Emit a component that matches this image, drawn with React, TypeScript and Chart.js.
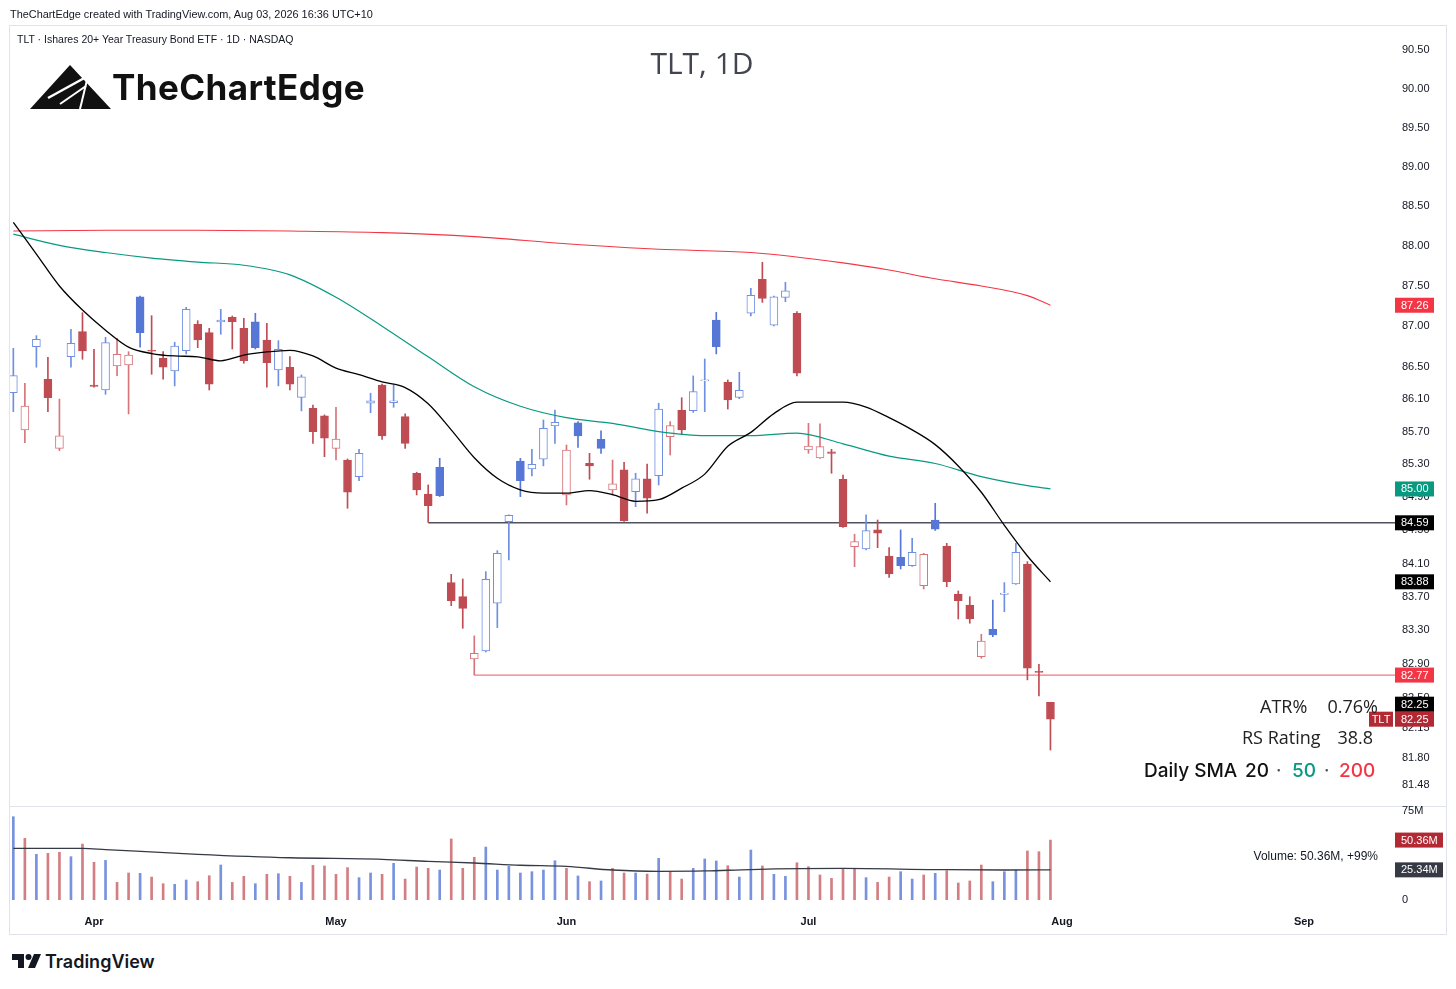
import React, { useEffect, useRef } from 'react';
import { Chart, registerables } from 'chart.js';

Chart.register(...registerables);

// ---------------- data ----------------
const opens = [86.177, 85.719, 86.745, 86.342, 85.495, 86.621, 86.931, 86.272, 86.210, 86.507,
  86.519, 87.366, 86.700, 86.601, 86.445, 86.695, 87.023, 86.919, 87.051, 87.110,
  86.973, 87.055, 86.828, 86.457, 86.491, 86.120, 85.985, 85.891, 85.495, 85.352,
  85.150, 86.047, 86.272, 86.054, 85.883, 85.191, 84.939, 85.264, 83.870, 83.702,
  82.961, 83.055, 83.623, 84.604, 85.340, 85.243, 85.361, 85.768, 84.927, 85.808,
  85.312, 85.605, 84.988, 85.231, 84.967, 85.122, 85.162, 85.638, 85.964, 85.955,
  86.322, 87.076, 86.305, 86.120, 87.160, 87.584, 87.011, 87.359, 87.160, 85.474,
  85.377, 85.453, 85.118, 84.302, 84.274, 84.504, 84.190, 84.174, 84.074, 83.834,
  84.624, 84.310, 83.734, 83.602, 82.988, 83.313, 83.730, 83.854, 84.094, 82.815,
  82.449];
const highs = [86.725, 86.293, 86.882, 86.614, 86.099, 86.961, 87.167, 86.713, 86.862, 86.849,
  86.683, 87.375, 87.130, 86.683, 86.800, 87.234, 87.068, 86.973, 87.209, 87.126,
  87.098, 87.160, 87.036, 86.820, 86.621, 86.396, 86.026, 85.904, 85.997, 85.365,
  85.483, 86.170, 86.284, 86.272, 85.916, 85.203, 85.049, 85.373, 83.970, 83.914,
  83.234, 84.002, 84.254, 84.685, 85.373, 85.483, 85.842, 85.964, 85.535, 85.821,
  85.434, 85.710, 85.352, 85.324, 85.191, 85.304, 86.047, 85.821, 86.115, 86.384,
  86.593, 87.172, 86.334, 86.429, 87.471, 87.797, 87.375, 87.547, 87.180, 85.801,
  85.793, 85.483, 85.170, 84.452, 84.685, 84.624, 84.290, 84.504, 84.403, 84.222,
  84.826, 84.342, 83.770, 83.702, 83.254, 83.662, 83.870, 84.342, 84.122, 82.898,
  82.449];
const lows = [85.944, 85.564, 86.491, 85.944, 85.466, 86.491, 86.589, 86.244, 86.157, 86.387,
  85.916, 86.738, 86.404, 86.342, 86.260, 86.655, 86.733, 86.210, 86.899, 86.716,
  86.540, 86.716, 86.244, 86.260, 86.210, 85.953, 85.556, 85.393, 85.352, 84.766,
  85.101, 85.931, 85.605, 85.997, 85.495, 84.927, 84.596, 84.908, 83.594, 83.325,
  82.770, 83.043, 83.332, 84.142, 84.907, 85.158, 85.280, 85.556, 84.806, 85.507,
  85.118, 85.434, 84.927, 84.606, 84.785, 84.706, 85.049, 85.413, 85.670, 85.935,
  85.944, 86.655, 85.976, 86.103, 87.126, 87.296, 87.002, 87.304, 86.384, 85.434,
  85.371, 85.191, 84.533, 84.062, 84.262, 84.290, 83.934, 84.034, 84.064, 83.794,
  84.498, 83.822, 83.436, 83.385, 82.969, 83.226, 83.523, 83.848, 82.713, 82.523,
  81.889];
const closes = [86.387, 86.013, 86.837, 86.115, 85.646, 86.787, 86.692, 86.254, 86.795, 86.651,
  86.642, 86.919, 86.688, 86.491, 86.754, 87.209, 86.828, 86.281, 87.076, 87.055,
  86.572, 86.733, 86.547, 86.713, 86.281, 86.371, 85.698, 85.618, 85.609, 84.960,
  85.434, 86.078, 85.646, 86.078, 85.556, 84.988, 84.797, 84.918, 83.654, 83.563,
  83.028, 83.910, 84.222, 84.681, 85.101, 85.300, 85.740, 85.813, 85.474, 85.646,
  85.279, 85.495, 85.061, 84.616, 85.122, 84.887, 85.976, 85.772, 85.719, 86.189,
  86.334, 86.745, 86.087, 86.206, 87.384, 87.346, 87.366, 87.441, 86.417, 85.523,
  85.515, 85.434, 84.543, 84.362, 84.495, 84.464, 83.974, 84.074, 84.234, 84.210,
  84.512, 83.882, 83.654, 83.436, 83.174, 83.246, 83.746, 84.234, 82.851, 82.801,
  82.250];
const volumes = [70, 51.8, 38.4, 39.2, 40.1, 36.4, 47, 31.7, 33.3, 14.8,
  22.7, 22.4, 19.3, 13.7, 13.2, 16.8, 15.4, 20.4, 29.4, 14.8,
  19.9, 13.7, 21.6, 22.1, 19.9, 14.8, 29.1, 28.6, 21.6, 27.2,
  18.8, 22.7, 21.6, 30.8, 17.6, 27.7, 26.6, 25.2, 51.3, 26.6,
  35.9, 44.5, 25.2, 28.3, 22.7, 23.8, 25.2, 33, 26.6, 20.2,
  15.4, 16, 26.6, 22.7, 22.7, 21.8, 35, 23.8, 17.6, 26.6,
  34.5, 32.8, 28.8, 19.3, 42, 28.6, 21.6, 19.9, 31.3, 28,
  21, 18.2, 25.8, 25.8, 18.8, 14.8, 19.3, 23.8, 17.6, 21,
  22.4, 24.6, 14.3, 16, 29.4, 15.4, 23.8, 25.2, 41.2, 40.6,
  50.36];

const sma20Idx = [0, 2, 4, 6, 8, 10, 12, 14, 16, 18, 20, 22, 24, 26, 28, 30, 32, 34, 36, 38, 40, 42, 44,
  46, 48, 50, 52, 54, 56, 58, 60, 62, 64, 66, 68, 70, 72, 74, 76, 78, 80, 82, 84, 86, 88, 90];
const sma20Vals = [88.30, 87.90, 87.50, 87.20, 86.95, 86.74, 86.66, 86.63, 86.62, 86.57, 86.64, 86.68,
  86.70, 86.63, 86.48, 86.40, 86.31, 86.24, 86.04, 85.72, 85.38, 85.13, 84.99, 84.95, 84.95, 84.98,
  84.93, 84.85, 84.87, 85.01, 85.18, 85.52, 85.69, 85.92, 86.06, 86.06, 86.06, 86.00, 85.87, 85.72,
  85.54, 85.28, 84.96, 84.56, 84.19, 83.88];
const sma50Idx = [0, 4, 8, 12, 16, 20, 24, 28, 32, 36, 40, 44, 48, 52, 56, 60, 64, 68, 72, 76, 80, 84, 88, 90];
const sma50Vals = [88.15, 88.01, 87.92, 87.85, 87.80, 87.76, 87.64, 87.36, 87.00, 86.62, 86.25, 86.01,
  85.87, 85.80, 85.70, 85.65, 85.65, 85.68, 85.55, 85.40, 85.31, 85.15, 85.04, 85.00];
const sma200Idx = [0, 8, 16, 24, 32, 40, 48, 56, 64, 72, 76, 80, 84, 88, 90];
const sma200Vals = [88.19, 88.20, 88.20, 88.19, 88.17, 88.12, 88.03, 87.96, 87.92, 87.79, 87.70, 87.59,
  87.50, 87.38, 87.26];
const volMaIdx = [0, 6, 8, 16, 24, 32, 36, 40, 44, 48, 52, 56, 60, 64, 72, 80, 86, 90];
const volMaVals = [43.4, 43.4, 42.4, 38.4, 35.5, 34.2, 32.4, 31.1, 29.2, 28.2, 25.2, 24.1, 24.4, 25.6,
  26.5, 25.6, 25.2, 25.34];

const monthIdx = [7, 28, 48, 69, 91, 112];
const monthLabels = ['Apr', 'May', 'Jun', 'Jul', 'Aug', 'Sep'];
const priceTicks = [90.5, 90, 89.5, 89, 88.5, 88, 87.5, 87, 86.5, 86.1, 85.7, 85.3, 84.9, 84.5, 84.1,
  83.7, 83.3, 82.9, 82.5, 82.15, 81.8, 81.48];
const volTicks = [0, 75];

const levelValues = [84.59, 82.77];
const levelStarts = [36, 40];

const priceBadgeValues = [87.26, 85.0, 84.59, 83.88, 82.77, 82.25, 82.25];
const priceBadgeTexts = ['87.26', '85.00', '84.59', '83.88', '82.77', '82.25', '82.25'];
const priceBadgeTags = ['', '', '', '', '', 'TLT', ''];
const volBadgeValues = [50.36, 25.34];
const volBadgeTexts = ['50.36M', '25.34M'];

// ---------------- styles ----------------
const X_MIN = -0.29;
const X_MAX = 119.9;
const PRICE_MIN = 81.248;
const PRICE_MAX = 90.824;
const VOL_MAX = 79;

const BLUE = '#5677d6';
const BLUE_H = '#6f8fe0';
const RED = '#c04c53';
const RED_H = '#d6767b';
const AXIS_FONT = '"Liberation Sans", Arial, sans-serif';
const priceBadgeColors = ['#f23645', '#089981', '#000000', '#000000', '#f23645', '#b22833', '#000000'];
const volBadgeColors = ['#b22833', '#363a45'];

const up = closes.map((c, i) => (i === 0 ? true : c >= closes[i - 1]));
const hollow = closes.map((c, i) => c > opens[i]);
const strokeCol = (i: number) => (up[i] ? (hollow[i] ? BLUE_H : BLUE) : hollow[i] ? RED_H : RED);
const fillCol = (i: number) => (hollow[i] ? '#ffffff' : up[i] ? BLUE : RED);

const lineSeries = (idx: number[], vals: number[]) => idx.map((x, k) => ({ x, y: vals[k] }));

const noPad = (s: any) => {
  s.paddingTop = 0;
  s.paddingBottom = 0;
  s.paddingLeft = 0;
  s.paddingRight = 0;
};

const priceBadgePlugin = {
  id: 'priceBadges',
  afterDraw(chart: any) {
    const ctx = chart.ctx;
    const ys = chart.scales.y;
    const left = chart.chartArea.right;
    const placed: number[] = [];
    ctx.save();
    ctx.font = `11px ${AXIS_FONT}`;
    ctx.textBaseline = 'middle';
    priceBadgeValues.forEach((v, k) => {
      let py = ys.getPixelForValue(v);
      placed.forEach((p) => {
        if (Math.abs(p - py) < 15) py = p - 15;
      });
      placed.push(py);
      ctx.fillStyle = priceBadgeColors[k];
      ctx.fillRect(left, py - 7.5, 39, 15);
      ctx.fillStyle = '#ffffff';
      ctx.textAlign = 'left';
      ctx.fillText(priceBadgeTexts[k], left + 6, py + 0.5);
      if (priceBadgeTags[k]) {
        ctx.fillStyle = priceBadgeColors[k];
        ctx.fillRect(left - 26, py - 7.5, 24, 15);
        ctx.fillStyle = '#ffffff';
        ctx.textAlign = 'center';
        ctx.fillText(priceBadgeTags[k], left - 14, py + 0.5);
      }
    });
    ctx.restore();
  },
};

const volBadgePlugin = {
  id: 'volBadges',
  afterDraw(chart: any) {
    const ctx = chart.ctx;
    const ys = chart.scales.y;
    const left = chart.chartArea.right;
    ctx.save();
    ctx.font = `11px ${AXIS_FONT}`;
    ctx.textBaseline = 'middle';
    ctx.textAlign = 'left';
    volBadgeValues.forEach((v, k) => {
      const py = ys.getPixelForValue(v);
      ctx.fillStyle = volBadgeColors[k];
      ctx.fillRect(left, py - 7.5, 48, 15);
      ctx.fillStyle = '#ffffff';
      ctx.fillText(volBadgeTexts[k], left + 6, py + 0.5);
    });
    ctx.restore();
  },
};

type LabelProps = {
  text?: string;
  left?: number;
  right?: number;
  cy: number;
  size: number;
  family?: string;
  weight?: number | string;
  color?: string;
  spacing?: number;
};

function Label({ text, left, right, cy, size, family, weight, color, spacing }: LabelProps) {
  const lh = Math.round(size * 1.3);
  const style: React.CSSProperties = {
    position: 'absolute',
    top: cy - lh / 2,
    lineHeight: `${lh}px`,
    fontSize: size,
    fontFamily: family || AXIS_FONT,
    fontWeight: weight || 400,
    color: color || '#131722',
    whiteSpace: 'nowrap',
    letterSpacing: spacing ? `${spacing}px` : undefined,
  };
  if (left !== undefined) style.left = left;
  if (right !== undefined) style.right = right;
  return <div style={style}>{text}</div>;
}

export default function App() {
  const priceRef = useRef<HTMLCanvasElement>(null);
  const volRef = useRef<HTMLCanvasElement>(null);

  useEffect(() => {
    const idx = closes.map((_, i) => i);
    const priceChart = new Chart(priceRef.current as HTMLCanvasElement, {
      type: 'bar',
      data: {
        datasets: [
          {
            type: 'line',
            data: lineSeries(sma20Idx, sma20Vals),
            borderColor: '#000000',
            borderWidth: 1.3,
            pointRadius: 0,
            cubicInterpolationMode: 'monotone',
            order: 1,
          } as any,
          {
            type: 'line',
            data: lineSeries(sma50Idx, sma50Vals),
            borderColor: '#089981',
            borderWidth: 1.2,
            pointRadius: 0,
            cubicInterpolationMode: 'monotone',
            order: 1,
          } as any,
          {
            type: 'line',
            data: lineSeries(sma200Idx, sma200Vals),
            borderColor: '#f23645',
            borderWidth: 1.1,
            pointRadius: 0,
            cubicInterpolationMode: 'monotone',
            order: 1,
          } as any,
          {
            type: 'bar',
            data: idx.map((i) => ({ x: i, y: [opens[i], closes[i]] })),
            backgroundColor: idx.map(fillCol),
            borderColor: idx.map(strokeCol),
            borderWidth: 1,
            borderSkipped: false,
            barThickness: 8,
            grouped: false,
            order: 2,
          } as any,
          {
            type: 'bar',
            data: idx.map((i) => ({ x: i, y: [lows[i], highs[i]] })),
            backgroundColor: idx.map(strokeCol),
            borderWidth: 0,
            barThickness: 1,
            grouped: false,
            order: 3,
          } as any,
          {
            type: 'line',
            data: [{ x: levelStarts[0], y: levelValues[0] }, { x: X_MAX, y: levelValues[0] }],
            borderColor: '#50535e',
            borderWidth: 1.5,
            pointRadius: 0,
            order: 4,
          } as any,
          {
            type: 'line',
            data: [{ x: levelStarts[1], y: levelValues[1] }, { x: X_MAX, y: levelValues[1] }],
            borderColor: '#f5777c',
            borderWidth: 1.2,
            pointRadius: 0,
            order: 4,
          } as any,
        ],
      },
      options: {
        responsive: false,
        animation: false,
        devicePixelRatio: 1,
        events: [],
        layout: { padding: { left: 10, top: 25, right: 0, bottom: 1 }, autoPadding: false } as any,
        plugins: { legend: { display: false }, tooltip: { enabled: false } },
        scales: {
          x: { type: 'linear', min: X_MIN, max: X_MAX, display: false, offset: false },
          y: {
            type: 'logarithmic',
            position: 'right',
            min: PRICE_MIN,
            max: PRICE_MAX,
            grid: { display: false, drawTicks: false },
            border: { display: false },
            afterBuildTicks: (s: any) => {
              s.ticks = priceTicks.map((v) => ({ value: v }));
            },
            afterFit: (s: any) => {
              s.width = 61;
              noPad(s);
            },
            ticks: {
              autoSkip: false,
              padding: 7,
              crossAlign: 'near',
              color: '#131722',
              font: { family: AXIS_FONT, size: 11 },
              callback: (v: any) => Number(v).toFixed(2),
            },
          } as any,
        },
      },
      plugins: [priceBadgePlugin],
    });

    const volChart = new Chart(volRef.current as HTMLCanvasElement, {
      type: 'bar',
      data: {
        datasets: [
          {
            type: 'line',
            data: lineSeries(volMaIdx, volMaVals),
            borderColor: '#363a45',
            borderWidth: 1.3,
            pointRadius: 0,
            cubicInterpolationMode: 'monotone',
            order: 1,
          } as any,
          {
            type: 'bar',
            data: idx.map((i) => ({ x: i, y: volumes[i] })),
            backgroundColor: idx.map((i) => (up[i] ? 'rgba(86,119,214,0.8)' : 'rgba(192,76,83,0.72)')),
            borderWidth: 0,
            barThickness: 2,
            grouped: false,
            order: 2,
          } as any,
        ],
      },
      options: {
        responsive: false,
        animation: false,
        devicePixelRatio: 1,
        events: [],
        layout: { padding: { left: 10, top: 1, right: 0, bottom: 0 }, autoPadding: false } as any,
        plugins: { legend: { display: false }, tooltip: { enabled: false } },
        scales: {
          x: {
            type: 'linear',
            min: X_MIN,
            max: X_MAX,
            offset: false,
            grid: { display: false, drawTicks: false },
            border: { display: false },
            afterBuildTicks: (s: any) => {
              s.ticks = monthIdx.map((v) => ({ value: v }));
            },
            afterFit: (s: any) => {
              s.height = 35;
              noPad(s);
            },
            ticks: {
              autoSkip: false,
              maxRotation: 0,
              padding: 15,
              color: '#131722',
              font: { family: AXIS_FONT, size: 11, weight: 'bold' },
              callback: (_v: any, i: number) => monthLabels[i],
            },
          } as any,
          y: {
            type: 'linear',
            position: 'right',
            min: 0,
            max: VOL_MAX,
            grid: { display: false, drawTicks: false },
            border: { display: false },
            afterBuildTicks: (s: any) => {
              s.ticks = volTicks.map((v) => ({ value: v }));
            },
            afterFit: (s: any) => {
              s.width = 61;
              noPad(s);
            },
            ticks: {
              autoSkip: false,
              padding: 7,
              crossAlign: 'near',
              color: '#131722',
              font: { family: AXIS_FONT, size: 11 },
              callback: (v: any) => (Number(v) === 0 ? '0' : `${v}M`),
            },
          } as any,
        },
      },
      plugins: [volBadgePlugin],
    });

    return () => {
      priceChart.destroy();
      volChart.destroy();
    };
  }, []);

  const uiFont = '"Open Sans", "Noto Sans", sans-serif';
  const logoFont = 'Inter, "Noto Sans", sans-serif';

  return (
    <div
      style={{
        position: 'absolute',
        left: 0,
        top: 0,
        width: 1456,
        height: 989,
        background: '#ffffff',
        overflow: 'hidden',
      }}
    >
      <div
        style={{
          position: 'absolute',
          left: 9,
          top: 25,
          width: 1436,
          height: 908,
          border: '1px solid #e0e3eb',
        }}
      />
      <div style={{ position: 'absolute', left: 9, top: 806, width: 1438, height: 1, background: '#e0e3eb' }} />
      <canvas
        ref={priceRef}
        width={1456}
        height={806}
        style={{ position: 'absolute', left: 0, top: 0, width: 1456, height: 806 }}
      />
      <canvas
        ref={volRef}
        width={1456}
        height={130}
        style={{ position: 'absolute', left: 0, top: 805, width: 1456, height: 130 }}
      />

      <Label left={10} cy={14} size={10.9} text="TheChartEdge created with TradingView.com, Aug 03, 2026 16:36 UTC+10" />
      <Label left={17} cy={39} size={10.5} text="TLT · Ishares 20+ Year Treasury Bond ETF · 1D · NASDAQ" />

      <svg style={{ position: 'absolute', left: 30, top: 64 }} width={82} height={46} viewBox="0 0 82 46">
        <polygon points="40,1 81,45 0,45" fill="#111111" />
        <line x1="18" y1="34" x2="58" y2="12" stroke="#ffffff" strokeWidth="2.5" />
        <line x1="30" y1="40" x2="56" y2="22" stroke="#ffffff" strokeWidth="2" />
        <line x1="58" y1="12" x2="50" y2="45" stroke="#ffffff" strokeWidth="2" />
      </svg>
      <Label left={112} cy={87} size={35} family={logoFont} weight={700} color="#111111" spacing={0.4} text="TheChartEdge" />

      <div
        style={{
          position: 'absolute',
          left: 552,
          width: 300,
          top: 44,
          lineHeight: '38px',
          textAlign: 'center',
          fontSize: 30,
          fontFamily: uiFont,
          color: '#434651',
        }}
      >
        TLT, 1D
      </div>

      <Label left={1260} cy={706} size={18} family={uiFont} color="#222222" text="ATR%" />
      <Label right={78} cy={706} size={18} family={uiFont} color="#222222" text="0.76%" />
      <Label left={1242} cy={737} size={18} family={uiFont} color="#222222" text="RS Rating" />
      <Label right={83} cy={737} size={18} family={uiFont} color="#222222" text="38.8" />
      <Label left={1144} cy={770} size={19} family={logoFont} weight={500} color="#111111" text="Daily SMA" />
      <Label left={1245} cy={770} size={19} family={logoFont} weight={500} color="#111111" text="20" />
      <Label left={1276} cy={770} size={19} family={logoFont} color="#555555" text="·" />
      <Label left={1292} cy={770} size={19} family={logoFont} weight={500} color="#089981" text="50" />
      <Label left={1324} cy={770} size={19} family={logoFont} color="#555555" text="·" />
      <Label left={1339} cy={770} size={19} family={logoFont} weight={500} color="#f23645" text="200" />

      <Label right={78} cy={856} size={12} text="Volume: 50.36M, +99%" />

      <svg style={{ position: 'absolute', left: 12, top: 954 }} width={30} height={15} viewBox="0 0 30 15">
        <polygon points="0,0 12,0 12,14 6,14 6,6 0,6" fill="#131722" />
        <circle cx="16.5" cy="3" r="3" fill="#131722" />
        <polygon points="22,0 29,0 23,14 16,14" fill="#131722" />
      </svg>
      <Label left={45} cy={961} size={18} family={logoFont} weight={600} color="#131722" text="TradingView" />
    </div>
  );
}
